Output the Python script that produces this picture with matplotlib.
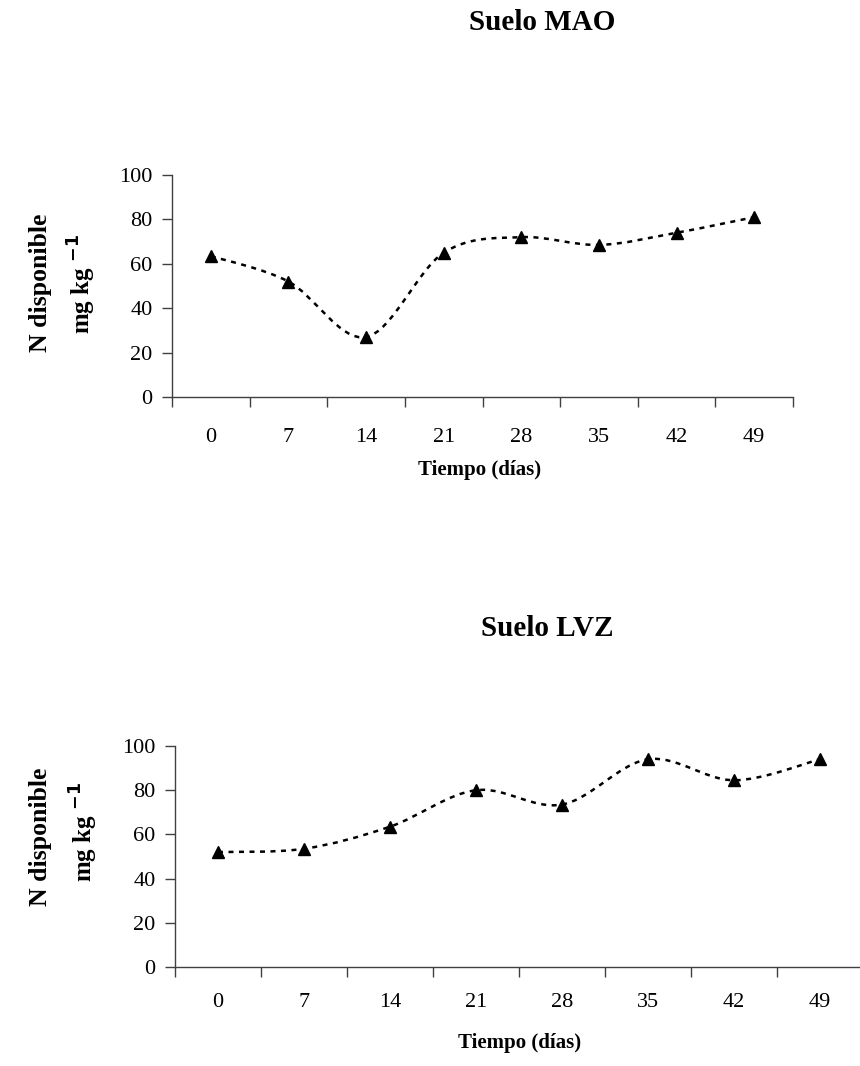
import numpy as np
import matplotlib
matplotlib.use("Agg")
import matplotlib.pyplot as plt
from matplotlib.path import Path
from matplotlib.patches import PathPatch

plt.rcParams['font.family'] = ['Liberation Serif', 'DejaVu Serif']

dias = ['0', '7', '14', '21', '28', '35', '42', '49']
n_mao = [63.5, 52, 27, 65, 72, 68.5, 74, 81]
n_lvz = [52, 53.5, 63.5, 80, 73.5, 94, 84.5, 94]
yticks = [0, 20, 40, 60, 80, 100]

AX_COLOR = '#404040'


def smooth_path(x, y):
    # Catmull-Rom -> cubic bezier, like Excel's smoothed line
    x = np.asarray(x, float)
    y = np.asarray(y, float)
    verts = [(x[0], y[0])]
    codes = [Path.MOVETO]
    n = len(x)
    for i in range(n - 1):
        x0, y0 = (x[i - 1], y[i - 1]) if i > 0 else (x[i], y[i])
        x3, y3 = (x[i + 2], y[i + 2]) if i + 2 < n else (x[i + 1], y[i + 1])
        c1 = (x[i] + (x[i + 1] - x0) / 6, y[i] + (y[i + 1] - y0) / 6)
        c2 = (x[i + 1] - (x3 - x[i]) / 6, y[i + 1] - (y3 - y[i]) / 6)
        verts += [c1, c2, (x[i + 1], y[i + 1])]
        codes += [Path.CURVE4] * 3
    return Path(verts, codes)


def draw(ax, values, title, title_xy, xlabel_xy, ylab_xy, tick_pad):
    xs = np.arange(len(dias))
    ax.add_patch(PathPatch(smooth_path(xs, values), fill=False, edgecolor='black',
                           linewidth=1.8, linestyle=(0, (2, 2.2))))
    ax.plot(xs, values, linestyle='none', marker='^', markersize=9, color='black')

    ax.set_xlim(-0.5, len(dias) - 0.5)
    ax.set_ylim(0, 100)
    ax.set_yticks(yticks)
    ax.set_xticks(np.arange(-0.5, len(dias)), labels=[])
    ax.set_xticks(xs, labels=dias, minor=True)
    ax.tick_params(axis='x', which='major', direction='out', length=7, width=1, color=AX_COLOR)
    ax.tick_params(axis='x', which='minor', length=0, pad=tick_pad, labelsize=16)
    ax.tick_params(axis='y', direction='out', length=7, width=1, color=AX_COLOR,
                   pad=7, labelsize=16)
    for side in ['top', 'right']:
        ax.spines[side].set_visible(False)
    for side in ['left', 'bottom']:
        ax.spines[side].set_color(AX_COLOR)
        ax.spines[side].set_linewidth(1)
        ax.spines[side].set_clip_on(False)

    fig = ax.figure
    W, H = fig.get_size_inches() * fig.dpi
    fig.text(title_xy[0] / W, 1 - title_xy[1] / H, title, ha='center', va='center',
             fontsize=21, fontweight='bold')
    fig.text(xlabel_xy[0] / W, 1 - xlabel_xy[1] / H, 'Tiempo (días)', ha='center',
             va='center', fontsize=15, fontweight='bold')
    fig.text(ylab_xy[0] / W, 1 - ylab_xy[1] / H, 'N disponible', ha='center',
             va='center', rotation=90, fontsize=18.5, fontweight='bold')
    fig.text(ylab_xy[2] / W, 1 - ylab_xy[3] / H, r'mg kg $^{\mathbf{-1}}$', ha='center',
             va='center', rotation=90, fontsize=18, fontweight='bold')


fig = plt.figure(figsize=(8.6, 10.66), dpi=100)

ax1 = fig.add_axes([172 / 860, 1 - 397 / 1066, 621 / 860, 222 / 1066])
draw(ax1, n_mao, 'Suelo MAO', (542, 23), (480, 470), (40, 283, 82, 284), 22)

ax2 = fig.add_axes([175 / 860, 1 - 967 / 1066, 688 / 860, 221 / 1066])
draw(ax2, n_lvz, 'Suelo LVZ', (547, 628), (520, 1043), (40, 837, 84, 832), 19)

fig.savefig('out.png', dpi=100)
